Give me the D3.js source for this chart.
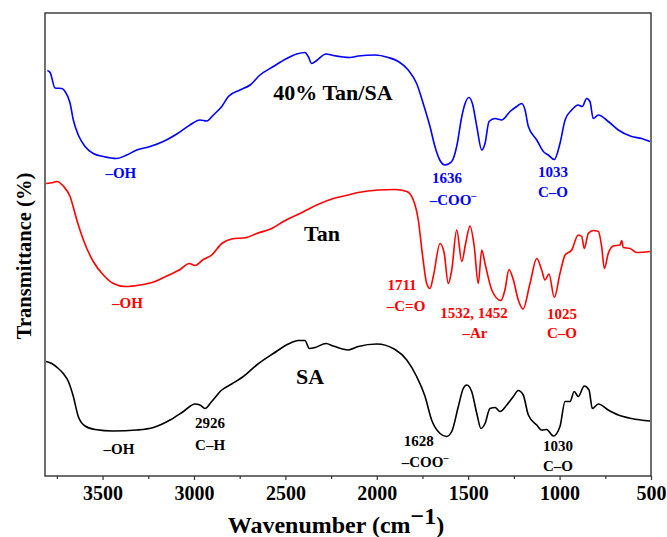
<!DOCTYPE html>
<html>
<head>
<meta charset="utf-8">
<script src="https://cdn.jsdelivr.net/npm/d3@7"></script>
<style>
  html, body { margin: 0; padding: 0; background: #fff; }
  svg { display: block; }
  text { font-family: "Liberation Serif", "Times New Roman", serif; font-weight: bold; }
</style>
</head>
<body>
<svg id="chart" width="667" height="537"></svg>
<script>
// FTIR spectra, [wavenumber (cm-1), transmittance (a.u., offset)]
const blendSpectrum = [
  [3802, 81.1], [3787, 80.7], [3760, 77.6], [3723, 77.5], [3705, 76.9], [3678, 74.6],
  [3660, 71.2], [3633, 68.2], [3596, 65.9], [3551, 64.5], [3496, 63.9], [3423, 63.5],
  [3368, 64.2], [3313, 65.2], [3240, 65.9], [3168, 66.9], [3094, 68.4], [3022, 70.2],
  [2967, 71.2], [2930, 71.0], [2894, 72.2], [2848, 73.9], [2812, 75.9], [2748, 77.2],
  [2693, 78.2], [2639, 80.2], [2566, 81.9], [2493, 83.5], [2438, 84.4], [2393, 84.7],
  [2375, 83.9], [2356, 82.5], [2329, 83.1], [2278, 84.4], [2238, 84.1], [2146, 83.7],
  [2101, 84.0], [2010, 84.2], [1937, 83.7], [1882, 82.9], [1828, 81.2], [1782, 78.5],
  [1746, 74.5], [1709, 69.9], [1682, 65.9], [1654, 63.1], [1627, 62.2], [1590, 62.9],
  [1563, 65.9], [1535, 71.9], [1517, 74.5], [1496, 75.7], [1477, 74.5], [1453, 69.9],
  [1426, 65.2], [1408, 66.5], [1386, 70.9], [1353, 71.5], [1317, 71.2], [1271, 72.9],
  [1235, 73.9], [1207, 74.5], [1189, 73.2], [1171, 69.9], [1125, 67.2], [1089, 64.9],
  [1062, 64.2], [1029, 63.3], [998, 66.5], [970, 71.2], [934, 73.2], [898, 74.2],
  [876, 73.9], [852, 75.5], [834, 74.9], [816, 71.5], [788, 72.2], [734, 70.9],
  [679, 69.2], [606, 67.9], [551, 67.5], [505, 66.9]
];

const tanSpectrum = [
  [3809, 58.5], [3769, 58.7], [3751, 58.9], [3715, 58.0], [3678, 55.9], [3641, 51.2],
  [3605, 47.2], [3551, 42.9], [3496, 40.2], [3441, 38.5], [3377, 37.9], [3295, 38.2],
  [3213, 38.9], [3149, 40.0], [3076, 41.3], [3026, 42.5], [2994, 42.1], [2949, 43.3],
  [2903, 44.2], [2848, 46.5], [2794, 47.4], [2712, 47.7], [2657, 48.5], [2575, 49.5],
  [2511, 50.9], [2420, 52.5], [2329, 54.2], [2238, 55.5], [2156, 56.2], [2101, 56.7],
  [1992, 57.2], [1900, 57.3], [1836, 56.9], [1800, 55.2], [1773, 51.2], [1751, 44.5],
  [1727, 38.5], [1709, 37.5], [1691, 39.9], [1654, 46.5], [1631, 44.5], [1609, 38.5],
  [1590, 41.2], [1563, 49.2], [1535, 42.9], [1514, 46.5], [1490, 50.0], [1467, 45.9],
  [1445, 38.5], [1426, 45.2], [1408, 42.5], [1371, 37.2], [1321, 35.1], [1299, 37.2],
  [1277, 41.3], [1253, 39.2], [1226, 35.2], [1200, 33.4], [1162, 38.5], [1125, 43.5],
  [1098, 41.2], [1080, 39.2], [1058, 40.4], [1029, 35.7], [998, 40.5], [970, 44.2],
  [934, 45.2], [898, 48.2], [879, 47.9], [865, 45.5], [843, 48.5], [816, 49.1],
  [788, 48.9], [770, 45.9], [755, 41.5], [734, 44.5], [706, 46.0], [670, 46.2],
  [660, 47.1], [652, 45.7], [615, 45.5], [578, 44.7], [505, 44.9]
];

const saSpectrum = [
  [3809, 22.9], [3778, 22.5], [3742, 21.5], [3715, 20.5], [3687, 18.9], [3660, 15.9],
  [3633, 11.9], [3596, 10.0], [3541, 9.3], [3441, 9.0], [3313, 9.2], [3222, 9.7],
  [3131, 11.2], [3058, 12.9], [2994, 14.4], [2967, 14.2], [2940, 13.5], [2903, 14.9],
  [2848, 17.2], [2794, 18.4], [2730, 19.9], [2657, 22.2], [2566, 24.5], [2484, 26.4],
  [2429, 27.1], [2393, 27.1], [2369, 25.5], [2338, 25.7], [2278, 26.5], [2238, 26.0],
  [2156, 25.2], [2101, 25.9], [2000, 26.4], [1900, 25.3], [1836, 23.2], [1782, 19.9],
  [1736, 15.9], [1700, 11.2], [1654, 8.5], [1618, 7.9], [1590, 8.9], [1554, 13.9],
  [1527, 17.5], [1508, 18.2], [1481, 16.9], [1453, 12.5], [1430, 9.5], [1408, 10.5],
  [1381, 13.5], [1353, 13.7], [1326, 12.9], [1289, 14.2], [1253, 15.9], [1226, 17.1],
  [1199, 16.2], [1171, 12.2], [1125, 10.2], [1098, 9.2], [1071, 9.3], [1034, 8.0],
  [998, 9.9], [970, 14.9], [943, 14.9], [920, 16.9], [898, 15.9], [865, 18.0],
  [839, 17.2], [821, 13.5], [788, 14.4], [734, 13.2], [679, 12.2], [606, 11.5],
  [505, 11.0]
];

const series = [
  { name: "40% Tan/SA", color: "#0000ff", values: blendSpectrum },
  { name: "Tan", color: "#ff0000", values: tanSpectrum },
  { name: "SA", color: "#000000", values: saSpectrum }
];

// sample names drawn next to curves: [label, wavenumber, y]
const sampleLabels = [
  ["40% Tan/SA", 2240, 75.2],
  ["Tan", 2300, 47.0],
  ["SA", 2365, 18.4]
];

// band annotations: [text, wavenumber, y, colour, superscript]
const bandLabels = [
  ["–OH", 3400, 59.6, "#0000ff", ""],
  ["1636", 1616, 58.6, "#0000ff", ""],
  ["–COO", 1583, 54.2, "#0000ff", "–"],
  ["1033", 1036, 59.9, "#0000ff", ""],
  ["C–O", 1036, 55.8, "#0000ff", ""],
  ["–OH", 3364, 33.6, "#ff0000", ""],
  ["1711", 1862, 37.2, "#ff0000", ""],
  ["–C=O", 1840, 33.0, "#ff0000", ""],
  ["1532, 1452", 1468, 31.6, "#ff0000", ""],
  ["–Ar", 1463, 27.6, "#ff0000", ""],
  ["1025", 987, 31.4, "#ff0000", ""],
  ["C–O", 987, 27.6, "#ff0000", ""],
  ["–OH", 3410, 4.4, "#000000", ""],
  ["2926", 2912, 9.6, "#000000", ""],
  ["C–H", 2912, 5.2, "#000000", ""],
  ["1628", 1771, 6.0, "#000000", ""],
  ["–COO", 1736, 1.8, "#000000", "–"],
  ["1030", 1009, 5.0, "#000000", ""],
  ["C–O", 1009, 1.0, "#000000", ""]
];

const majorTicks = [3500, 3000, 2500, 2000, 1500, 1000, 500];
const minorTicks = [3750, 3250, 2750, 2250, 1750, 1250, 750];

const margin = { top: 13, right: 16, bottom: 61, left: 45 };
const W = 667, H = 537;
const innerW = W - margin.left - margin.right;
const innerH = H - margin.top - margin.bottom;

const svg = d3.select("#chart");
const g = svg.append("g").attr("transform", `translate(${margin.left},${margin.top})`);

const x = d3.scaleLinear().domain([3815, 500]).range([0, innerW]);
const y = d3.scaleLinear().domain([0, 92.6]).range([innerH, 0]);

const line = d3.line()
  .x((d) => x(d[0]))
  .y((d) => y(d[1]))
  .curve(d3.curveMonotoneX);

g.selectAll("path.spectrum")
  .data(series)
  .enter()
  .append("path")
  .attr("class", "spectrum")
  .attr("fill", "none")
  .attr("stroke", (d) => d.color)
  .attr("stroke-width", 1.6)
  .attr("stroke-linejoin", "round")
  .attr("d", (d) => line(d.values));

// minor ticks
g.append("g")
  .attr("transform", `translate(0,${innerH})`)
  .call(d3.axisBottom(x).tickValues(minorTicks).tickSize(3).tickFormat(""))
  .call((a) => a.select(".domain").remove())
  .call((a) => a.selectAll("line").attr("stroke", "#333").attr("stroke-width", 1.2));

// major ticks + labels
g.append("g")
  .attr("transform", `translate(0,${innerH})`)
  .call(d3.axisBottom(x).tickValues(majorTicks).tickSize(4).tickPadding(6).tickFormat(d3.format("d")))
  .call((a) => a.select(".domain").remove())
  .call((a) => a.selectAll("line").attr("stroke", "#333").attr("stroke-width", 1.2))
  .call((a) => a.selectAll("text")
    .attr("fill", "#000")
    .style("font-size", "20px")
    .style("font-family", '"Liberation Serif", "Times New Roman", serif')
    .style("font-weight", "bold"));

// frame
g.append("rect")
  .attr("x", 0).attr("y", 0)
  .attr("width", innerW).attr("height", innerH)
  .attr("fill", "none")
  .attr("stroke", "#333")
  .attr("stroke-width", 1.4);

// sample names
g.selectAll("text.sample")
  .data(sampleLabels)
  .enter()
  .append("text")
  .attr("class", "sample")
  .attr("x", (d) => x(d[1]))
  .attr("y", (d) => y(d[2]))
  .attr("text-anchor", "middle")
  .style("font-size", "22px")
  .attr("fill", "#000")
  .text((d) => d[0]);

// band annotations
const bands = g.selectAll("text.band")
  .data(bandLabels)
  .enter()
  .append("text")
  .attr("class", "band")
  .attr("x", (d) => x(d[1]))
  .attr("y", (d) => y(d[2]))
  .attr("text-anchor", "middle")
  .style("font-size", "15px")
  .attr("fill", (d) => d[3]);

bands.append("tspan").text((d) => d[0]);
bands.filter((d) => d[4])
  .append("tspan")
  .attr("dy", -6)
  .style("font-size", "10px")
  .text((d) => d[4]);

// axis titles
const xt = svg.append("text")
  .attr("x", margin.left + innerW / 2 - 12)
  .attr("y", 533)
  .attr("text-anchor", "middle")
  .style("font-size", "24px")
  .attr("fill", "#000");
xt.append("tspan").text("Wavenumber (cm");
xt.append("tspan").attr("dy", -9).text("−1");
xt.append("tspan").attr("dy", 9).text(")");

svg.append("text")
  .attr("transform", "translate(31,256) rotate(-90)")
  .attr("text-anchor", "middle")
  .style("font-size", "20.5px")
  .attr("fill", "#000")
  .text("Transmittance (%)");
</script>
</body>
</html>
